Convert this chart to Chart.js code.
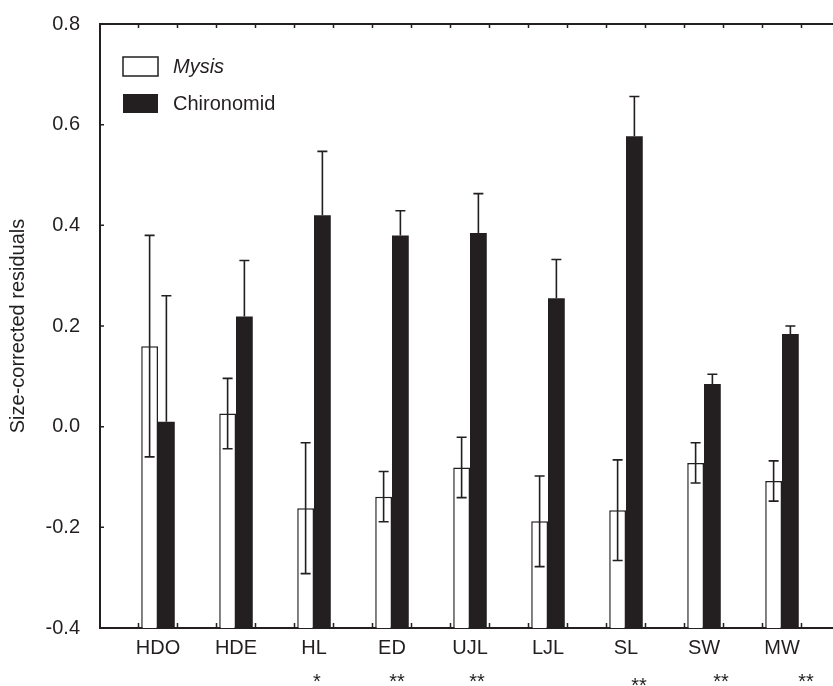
<!DOCTYPE html>
<html>
<head>
<meta charset="utf-8">
<script src="https://cdn.jsdelivr.net/npm/chart.js@4"></script>
<style>
  html, body { margin: 0; padding: 0; background: #fff; }
  #wrap { width: 833px; height: 686px; }
</style>
</head>
<body>
<div id="wrap"><canvas id="chart"></canvas></div>
<script>
// values (mean +/- error)
const sites = ['HDO', 'HDE', 'HL', 'ED', 'UJL', 'LJL', 'SL', 'SW', 'MW'];
const mysisValues = [0.160, 0.026, -0.162, -0.139, -0.081, -0.188, -0.166, -0.072, -0.108];
const mysisErrors = [0.220, 0.070, 0.130, 0.050, 0.060, 0.090, 0.100, 0.040, 0.040];
const chironomidValues = [0.010, 0.219, 0.420, 0.380, 0.385, 0.255, 0.577, 0.085, 0.184];
const chironomidErrors = [0.250, 0.111, 0.127, 0.049, 0.078, 0.077, 0.079, 0.019, 0.016];
const significance = ['', '', '*', '**', '**', '', '**', '**', '**'];

const ink = '#231f20';
const fontFamily = "'Liberation Sans', Arial, Helvetica, sans-serif";

Chart.defaults.font.family = fontFamily;
Chart.defaults.font.size = 20;
Chart.defaults.color = ink;

// stars sit a little to the right of the site names in the original
const starShift = [0, 0, 3, 5, 7, 0, 13, 17, 24];
const starDrop = [0, 0, 0, 0, 0, 0, 4, 0, 0];

const errorBars = {
  id: 'errorBars',
  afterDatasetsDraw(chart) {
    const { ctx } = chart;
    const yScale = chart.scales.y;
    chart.data.datasets.forEach((ds, d) => {
      const meta = chart.getDatasetMeta(d);
      meta.data.forEach((bar, i) => {
        const v = ds.data[i].y;
        const e = ds.errors[i];
        const yTop = yScale.getPixelForValue(v + e);
        const yBot = ds.errorBoth ? yScale.getPixelForValue(v - e) : yScale.getPixelForValue(v);
        ctx.save();
        ctx.strokeStyle = ink;
        ctx.lineWidth = 1.6;
        ctx.beginPath();
        ctx.moveTo(bar.x, yTop);
        ctx.lineTo(bar.x, yBot);
        ctx.moveTo(bar.x - 5, yTop);
        ctx.lineTo(bar.x + 5, yTop);
        if (ds.errorBoth) {
          ctx.moveTo(bar.x - 5, yBot);
          ctx.lineTo(bar.x + 5, yBot);
        }
        ctx.stroke();
        ctx.restore();
      });
    });
  }
};

const frame = {
  id: 'frame',
  afterDraw(chart) {
    const { ctx, chartArea } = chart;
    const x = chart.scales.x;
    const y = chart.scales.y;
    ctx.save();
    ctx.strokeStyle = ink;
    // top axis line
    ctx.lineWidth = 2;
    ctx.beginPath();
    ctx.moveTo(chartArea.left - 1, chartArea.top);
    ctx.lineTo(chartArea.right, chartArea.top);
    ctx.stroke();
    // inward ticks
    ctx.lineWidth = 1.5;
    ctx.beginPath();
    y.ticks.forEach((t) => {
      const py = y.getPixelForValue(t.value);
      ctx.moveTo(chartArea.left, py);
      ctx.lineTo(chartArea.left + 4, py);
    });
    for (let v = 0.75; v < x.max; v += 0.5) {
      const px = x.getPixelForValue(v);
      ctx.moveTo(px, chartArea.top);
      ctx.lineTo(px, chartArea.top + 4);
      ctx.moveTo(px, chartArea.bottom);
      ctx.lineTo(px, chartArea.bottom - 5);
    }
    ctx.stroke();

    // significance stars
    ctx.fillStyle = ink;
    ctx.font = '20px ' + fontFamily;
    ctx.textAlign = 'center';
    ctx.textBaseline = 'alphabetic';
    significance.forEach((s, i) => {
      if (!s) return;
      const px = x.getPixelForValue(i + 1) + starShift[i];
      ctx.fillText(s, px, chartArea.bottom + 60 + starDrop[i]);
    });

    // legend
    const bx = chartArea.left + 23;
    const by = chartArea.top + 33;
    chart.data.datasets.forEach((ds, d) => {
      const top = by + d * 37;
      ctx.fillStyle = ds.backgroundColor;
      ctx.fillRect(bx, top, 35, 19);
      if (ds.borderWidth) {
        ctx.lineWidth = 1.5;
        ctx.strokeStyle = ink;
        ctx.strokeRect(bx, top, 35, 19);
      }
      ctx.fillStyle = ink;
      ctx.textAlign = 'left';
      ctx.textBaseline = 'middle';
      ctx.font = (ds.italicLabel ? 'italic ' : '') + '20px ' + fontFamily;
      ctx.fillText(ds.label, bx + 50, top + 10);
    });
    ctx.restore();
  }
};

new Chart(document.getElementById('chart'), {
  type: 'bar',
  data: {
    datasets: [
      {
        label: 'Mysis',
        italicLabel: true,
        data: mysisValues.map((v, i) => ({ x: i + 1, y: v })),
        errors: mysisErrors,
        errorBoth: true,
        base: -0.4,
        backgroundColor: '#ffffff',
        borderColor: ink,
        borderWidth: 1.5,
        categoryPercentage: 0.43,
        barPercentage: 1
      },
      {
        label: 'Chironomid',
        data: chironomidValues.map((v, i) => ({ x: i + 1, y: v })),
        errors: chironomidErrors,
        errorBoth: false,
        base: -0.4,
        backgroundColor: ink,
        borderWidth: 0,
        categoryPercentage: 0.43,
        barPercentage: 1
      }
    ]
  },
  options: {
    responsive: true,
    maintainAspectRatio: false,
    animation: false,
    layout: { padding: { top: 24, right: 0, left: 0, bottom: 0 } },
    plugins: {
      legend: { display: false },
      tooltip: { enabled: false }
    },
    scales: {
      x: {
        type: 'linear',
        offset: false,
        min: 1 - 58 / 78,
        max: 1 + 675 / 78,
        grid: { display: false, drawTicks: false, offset: false },
        border: { display: true, color: ink, width: 2 },
        afterBuildTicks: (scale) => {
          scale.ticks = sites.map((s, i) => ({ value: i + 1 }));
        },
        afterFit: (scale) => { scale.height = 58; },
        ticks: {
          autoSkip: false,
          maxRotation: 0,
          padding: 8,
          color: ink,
          callback: (v) => sites[Math.round(v) - 1]
        }
      },
      y: {
        min: -0.4,
        max: 0.8,
        grid: { display: false, drawTicks: false },
        border: { display: true, color: ink, width: 2 },
        afterFit: (scale) => {
          scale.width = 100;
          scale.paddingTop = 12;
          scale.paddingBottom = 12;
        },
        ticks: {
          stepSize: 0.2,
          padding: 20,
          color: ink,
          callback: (v) => v.toFixed(1)
        },
        title: {
          display: true,
          text: 'Size-corrected residuals',
          color: ink,
          font: { size: 20 },
          padding: { top: 6, bottom: 0 }
        }
      }
    }
  },
  plugins: [errorBars, frame]
});
</script>
</body>
</html>
